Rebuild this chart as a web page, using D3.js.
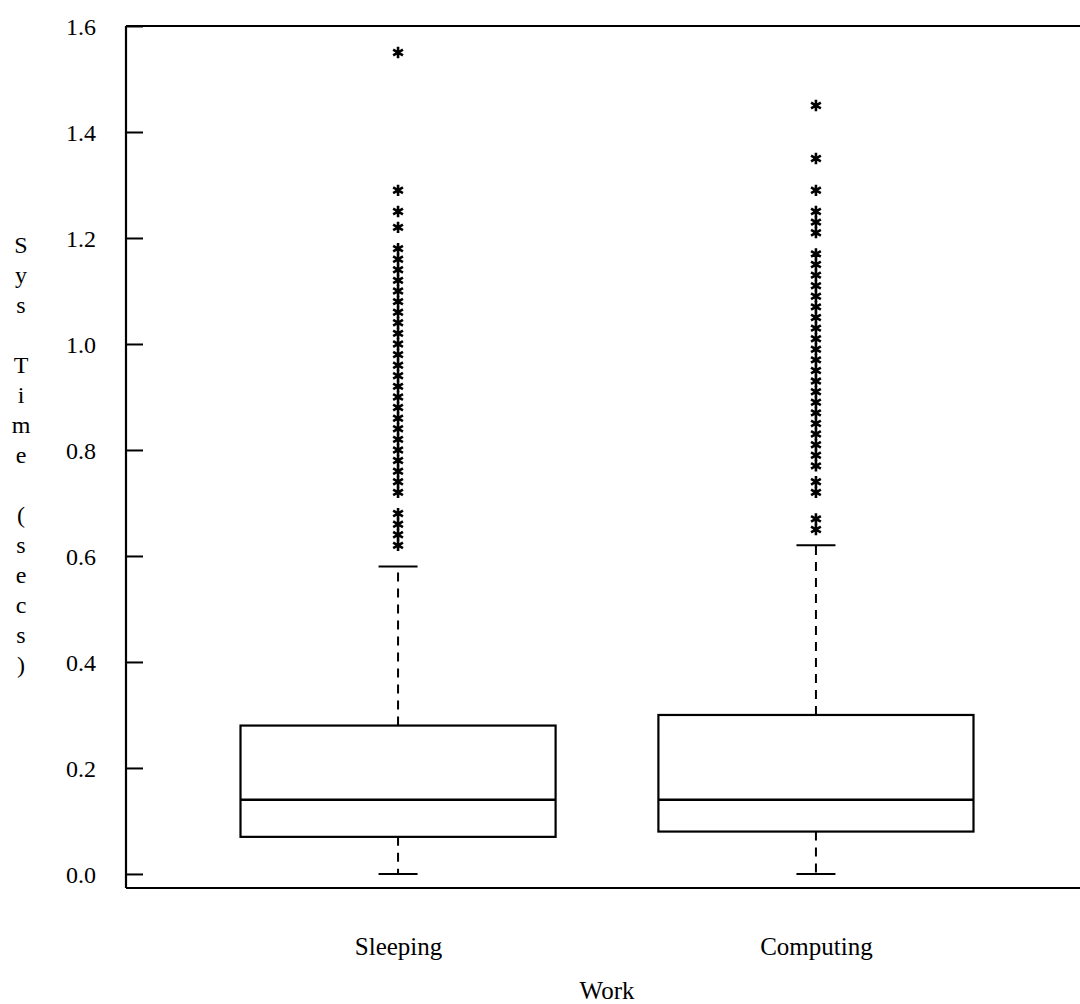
<!DOCTYPE html>
<html>
<head>
<meta charset="utf-8">
<script src="https://cdn.jsdelivr.net/npm/d3@7"></script>
<style>
  html, body { margin: 0; padding: 0; background: #fff; }
  svg { display: block; }
  text { font-family: "Liberation Serif", "Times New Roman", serif; fill: #000; }
</style>
</head>
<body>
<svg id="chart" width="1080" height="1004"></svg>
<script>
// Groups along the x axis
const categories = ["Sleeping", "Computing"];

// Five-number summaries (whisker ends and quartiles), seconds
const whiskerLow  = [0.00, 0.00];
const q1          = [0.07, 0.08];
const median      = [0.14, 0.14];
const q3          = [0.28, 0.30];
const whiskerHigh = [0.58, 0.62];

// Outlying observations per group, seconds
const outliersSleeping = [
  1.55, 1.29, 1.25, 1.22,
  1.18, 1.16, 1.14, 1.12, 1.10, 1.08, 1.06, 1.04, 1.02, 1.00,
  0.98, 0.96, 0.94, 0.92, 0.90, 0.88, 0.86, 0.84, 0.82, 0.80,
  0.78, 0.76, 0.74, 0.72,
  0.68, 0.66, 0.64, 0.62
];
const outliersComputing = [
  1.45, 1.35, 1.29, 1.25, 1.23, 1.21,
  1.17, 1.15, 1.13, 1.11, 1.09, 1.07, 1.05, 1.03, 1.01, 0.99,
  0.97, 0.95, 0.93, 0.91, 0.89, 0.87, 0.85, 0.83, 0.81, 0.79, 0.77,
  0.74, 0.72,
  0.67, 0.65
];
const outliers = [outliersSleeping, outliersComputing];

// Axis ticks and titles
const yTicks = [0.0, 0.2, 0.4, 0.6, 0.8, 1.0, 1.2, 1.4, 1.6];
const xTitle = "Work";
const yTitle = "Sys Time (secs)";

// Layout
const plot = { left: 126, right: 1088, top: 26, bottom: 888 };
const yLowest = -0.0265;

const svg = d3.select("#chart");

const x = d3.scalePoint()
  .domain(categories)
  .range([plot.left, plot.right])
  .padding(0.651);

const y = d3.scaleLinear()
  .domain([yLowest, 1.6])
  .range([plot.bottom, plot.top]);

const boxWidth = x.step() * 0.754;
const capWidth = 39;

// Frame: left axis, top and bottom border
const frame = svg.append("g").attr("fill", "none").attr("stroke", "#000");
frame.append("line")
  .attr("x1", plot.left).attr("x2", plot.left)
  .attr("y1", plot.top).attr("y2", plot.bottom)
  .attr("stroke-width", 2.2);
frame.append("line")
  .attr("x1", plot.left).attr("x2", plot.right)
  .attr("y1", plot.top).attr("y2", plot.top)
  .attr("stroke-width", 2);
frame.append("line")
  .attr("x1", plot.left).attr("x2", plot.right)
  .attr("y1", plot.bottom).attr("y2", plot.bottom)
  .attr("stroke-width", 2);

// Y axis: inward ticks, labels on the left
const yAxis = d3.axisRight(y)
  .tickValues(yTicks)
  .tickSize(17)
  .tickFormat(d3.format(".1f"));
const yg = svg.append("g")
  .attr("transform", `translate(${plot.left},0)`)
  .call(yAxis);
yg.select(".domain").remove();
yg.selectAll(".tick line").attr("stroke", "#000").attr("stroke-width", 2);
yg.selectAll(".tick text")
  .attr("x", -30)
  .attr("dy", "0.34em")
  .attr("text-anchor", "end")
  .style("font-family", '"Liberation Serif", "Times New Roman", serif')
  .style("font-size", "24px")
  .attr("fill", "#000");

// X axis category labels (no tick marks)
const xAxis = d3.axisBottom(x).tickSize(0).tickPadding(0);
const xg = svg.append("g")
  .attr("transform", `translate(0,${plot.bottom})`)
  .call(xAxis);
xg.select(".domain").remove();
xg.selectAll(".tick text")
  .attr("y", 67)
  .attr("dy", 0)
  .style("font-family", '"Liberation Serif", "Times New Roman", serif')
  .style("font-size", "25px")
  .attr("fill", "#000");

// Axis titles
svg.append("text")
  .attr("x", (plot.left + plot.right) / 2)
  .attr("y", 999)
  .attr("text-anchor", "middle")
  .style("font-size", "25px")
  .text(xTitle);

const yTitleG = svg.append("text")
  .attr("text-anchor", "middle")
  .style("font-size", "24px");
Array.from(yTitle).forEach((ch, i) => {
  yTitleG.append("tspan")
    .attr("x", 21)
    .attr("y", 253 + i * 30)
    .text(ch === " " ? "\u00a0" : ch);
});

// Boxes, whiskers, caps
const groups = svg.append("g")
  .selectAll("g.box")
  .data(categories.map((c, i) => ({
    cat: c, lo: whiskerLow[i], q1: q1[i], med: median[i], q3: q3[i], hi: whiskerHigh[i], out: outliers[i]
  })))
  .join("g")
  .attr("class", "box")
  .attr("stroke", "#000")
  .attr("fill", "none");

groups.append("line")
  .attr("x1", d => x(d.cat)).attr("x2", d => x(d.cat))
  .attr("y1", d => y(d.q3)).attr("y2", d => y(d.hi))
  .attr("stroke-width", 2)
  .attr("stroke-dasharray", "9,7");
groups.append("line")
  .attr("x1", d => x(d.cat)).attr("x2", d => x(d.cat))
  .attr("y1", d => y(d.q1)).attr("y2", d => y(d.lo))
  .attr("stroke-width", 2)
  .attr("stroke-dasharray", "9,7");

groups.append("line")
  .attr("x1", d => x(d.cat) - capWidth / 2).attr("x2", d => x(d.cat) + capWidth / 2)
  .attr("y1", d => y(d.hi)).attr("y2", d => y(d.hi))
  .attr("stroke-width", 2);
groups.append("line")
  .attr("x1", d => x(d.cat) - capWidth / 2).attr("x2", d => x(d.cat) + capWidth / 2)
  .attr("y1", d => y(d.lo)).attr("y2", d => y(d.lo))
  .attr("stroke-width", 2);

groups.append("rect")
  .attr("x", d => x(d.cat) - boxWidth / 2)
  .attr("width", boxWidth)
  .attr("y", d => y(d.q3))
  .attr("height", d => y(d.q1) - y(d.q3))
  .attr("fill", "#fff")
  .attr("stroke-width", 2.2);

groups.append("line")
  .attr("x1", d => x(d.cat) - boxWidth / 2).attr("x2", d => x(d.cat) + boxWidth / 2)
  .attr("y1", d => y(d.med)).attr("y2", d => y(d.med))
  .attr("stroke-width", 2.4);

// Outlier asterisks
const star = d3.symbol().type(d3.symbolAsterisk).size(90);
groups.each(function(d) {
  d3.select(this).selectAll("path.out")
    .data(d.out)
    .join("path")
    .attr("class", "out")
    .attr("d", star)
    .attr("transform", v => `translate(${x(d.cat)},${y(v)})`)
    .attr("stroke", "#000")
    .attr("stroke-width", 2.6);
});
</script>
</body>
</html>
